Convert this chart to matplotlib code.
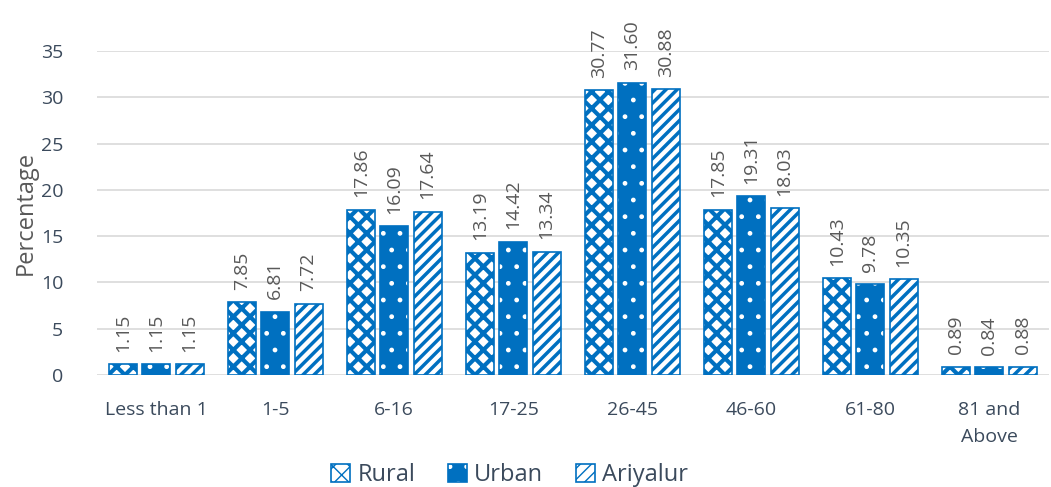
import matplotlib as mpl
import matplotlib.pyplot as plt
import numpy as np
from matplotlib.patches import Patch
from matplotlib.legend_handler import HandlerTuple

plt.rcParams['font.family'] = ['Open Sans', 'DejaVu Sans']

categories = ["Less than 1", "1-5", "6-16", "17-25", "26-45", "46-60", "61-80", "81 and\nAbove"]
rural = [1.15, 7.85, 17.86, 13.19, 30.77, 17.85, 10.43, 0.89]
urban = [1.15, 6.81, 16.09, 14.42, 31.60, 19.31, 9.78, 0.84]
ariyalur = [1.15, 7.72, 17.64, 13.34, 30.88, 18.03, 10.35, 0.88]

BLUE = "#0070C0"
TEXT = "#595959"
TICK = "#3b4a5c"

fig = plt.figure(figsize=(10.51, 4.87), dpi=100)
ax = fig.add_axes([0.092, 0.23, 0.906, 0.665])

x = np.arange(len(categories))
w = 0.235
step = 0.28

# name, values, face colour, hatch colour, hatch, hatch line width
series = [
    ("Rural", rural, "white", BLUE, "xx", 3.0),
    ("Urban", urban, BLUE, "white", ".", 1.0),
    ("Ariyalur", ariyalur, "white", BLUE, "///", 2.5),
]

for i, (name, vals, face, hcol, hatch, hlw) in enumerate(series):
    pos = x + (i - 1) * step
    with mpl.rc_context({"hatch.linewidth": hlw}):
        ax.bar(pos, vals, w, color=face, edgecolor=hcol, hatch=hatch, linewidth=0, zorder=2)
    # blue outline on top of the hatched fill
    ax.bar(pos, vals, w, facecolor="none", edgecolor=BLUE, linewidth=1.2, zorder=3)
    for xp, v in zip(pos, vals):
        ax.annotate(f"{v:.2f}", (xp, v), xytext=(0, 9), textcoords="offset points",
                    rotation=90, ha="center", va="bottom", fontsize=14, color=TEXT)

ax.set_xlim(-0.5, len(categories) - 0.5)
ax.set_ylim(0, 35)
ax.set_yticks(range(0, 36, 5))
ax.set_xticks(x)
ax.set_xticklabels(categories, linespacing=1.6)
ax.tick_params(axis="both", length=0, labelsize=14, labelcolor=TICK)
ax.tick_params(axis="x", pad=19)
ax.tick_params(axis="y", pad=24)
ax.grid(axis="y", color="#d9d9d9", linewidth=1.2, zorder=0)
ax.set_axisbelow(True)
for s in ax.spines.values():
    s.set_visible(False)
ax.set_ylabel("Percentage", fontsize=17, color=TEXT, labelpad=2)

# legend keys: hatched fill with a blue outline drawn over it
leg_handles = []
for name, vals, face, hcol, hatch, hlw in series:
    with mpl.rc_context({"hatch.linewidth": hlw}):
        fill = Patch(facecolor=face, edgecolor=hcol, hatch=hatch, linewidth=0)
    edge = Patch(facecolor="none", edgecolor=BLUE, linewidth=1.2)
    leg_handles.append((fill, edge))
fig.legend(leg_handles, [s[0] for s in series], loc="center",
           bbox_to_anchor=(0.485, 0.025), ncol=3, frameon=False, fontsize=17,
           handlelength=0.8, handleheight=0.8, columnspacing=1.4, handletextpad=0.3,
           labelcolor=TICK, handler_map={tuple: HandlerTuple(ndivide=1, pad=0)})

fig.savefig("out.png", dpi=100)
